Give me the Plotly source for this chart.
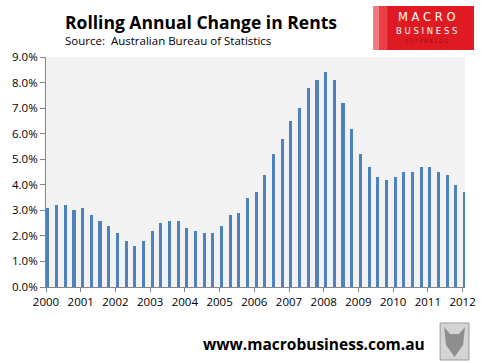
import plotly.graph_objects as go

# ---- data (quarterly rolling annual change in rents, %) ----
years = [2000 + q / 4 for q in range(49)]
rent_change = [3.1, 3.2, 3.2, 3.0, 3.1, 2.8, 2.6, 2.4,
               2.1, 1.8, 1.6, 1.8, 2.2, 2.5, 2.6, 2.6,
               2.3, 2.2, 2.1, 2.1, 2.4, 2.8, 2.9, 3.5,
               3.7, 4.4, 5.2, 5.8, 6.5, 7.0, 7.8, 8.1,
               8.4, 8.1, 7.2, 6.2, 5.2, 4.7, 4.3, 4.2,
               4.3, 4.5, 4.5, 4.7, 4.7, 4.5, 4.4, 4.0,
               3.7]
x_ticks = list(range(2000, 2013))
x_labels = [str(y) for y in x_ticks]
y_ticks = list(range(0, 10))
y_labels = [f"{v:.1f}%" for v in y_ticks]

W, H = 488, 363
L, R, T, B = 45, 22, 57, 76
pw, ph = W - L - R, H - T - B


def px(x):
    return (x - L) / pw


def py(y):
    return (H - B - y) / ph


fig = go.Figure()
fig.add_trace(go.Bar(
    x=years, y=rent_change,
    width=0.088, offset=0.012,
    marker=dict(color="#4F81BD", line=dict(width=0)),
    hoverinfo="x+y",
))

font = "Open Sans, DejaVu Sans, sans-serif"

fig.update_layout(
    width=W, height=H,
    margin=dict(l=L, r=R, t=T, b=B, pad=0),
    paper_bgcolor="white",
    plot_bgcolor="#F2F2F2",
    showlegend=False,
    bargap=0,
    font=dict(family=font, size=11, color="#000000"),
    xaxis=dict(
        range=[2000, 2012.07],
        tickvals=x_ticks, ticktext=x_labels,
        ticks="outside", ticklen=4, tickcolor="#868686",
        showline=True, linecolor="#868686", linewidth=1,
        showgrid=False, zeroline=False,
        tickfont=dict(size=11.5, family=font),
        fixedrange=True,
    ),
    yaxis=dict(
        range=[0, 9],
        tickvals=y_ticks, ticktext=y_labels,
        ticks="outside", ticklen=5, tickcolor="#868686",
        showline=True, linecolor="#868686", linewidth=1,
        showgrid=False, zeroline=False,
        tickfont=dict(size=11.5, family=font),
        fixedrange=True,
    ),
)

shapes = []
annotations = []

# Title and source
annotations.append(dict(
    x=px(62), y=py(22), xref="paper", yref="paper",
    xanchor="left", yanchor="middle", showarrow=False,
    text="<b>Rolling Annual Change in Rents</b>",
    font=dict(family=font, size=17.5, color="#000000"),
))
annotations.append(dict(
    x=px(62), y=py(41), xref="paper", yref="paper",
    xanchor="left", yanchor="middle", showarrow=False,
    text="Source:  Australian Bureau of Statistics",
    font=dict(family=font, size=11.5, color="#000000"),
))

# Logo box
shapes.append(dict(type="rect", xref="paper", yref="paper",
                   x0=px(374), x1=px(475), y0=py(50), y1=py(6),
                   fillcolor="#E01A22", line=dict(width=0), layer="above"))
shapes.append(dict(type="rect", xref="paper", yref="paper",
                   x0=px(374), x1=px(380), y0=py(50), y1=py(6),
                   fillcolor="#F07A7E", line=dict(width=0), layer="above"))
shapes.append(dict(type="rect", xref="paper", yref="paper",
                   x0=px(380), x1=px(388), y0=py(50), y1=py(6),
                   fillcolor="#E84046", line=dict(width=0), layer="above"))
annotations.append(dict(
    x=px(427), y=py(17), xref="paper", yref="paper",
    xanchor="center", yanchor="middle", showarrow=False,
    text="M A C R O",
    font=dict(family="DejaVu Sans, sans-serif", size=11.5, color="#FFFFFF"),
))
annotations.append(dict(
    x=px(427), y=py(31), xref="paper", yref="paper",
    xanchor="center", yanchor="middle", showarrow=False,
    text="B U S I N E S S",
    font=dict(family="DejaVu Sans, sans-serif", size=8.5, color="#FFFFFF"),
))
annotations.append(dict(
    x=px(427), y=py(41), xref="paper", yref="paper",
    xanchor="center", yanchor="middle", showarrow=False,
    text="S U P E R B L O G",
    font=dict(family="DejaVu Sans, sans-serif", size=5, color="#9A1015"),
))

# Footer
annotations.append(dict(
    x=px(428), y=py(344), xref="paper", yref="paper",
    xanchor="right", yanchor="middle", showarrow=False,
    text="<b>www.macrobusiness.com.au</b>",
    font=dict(family=font, size=15.5, color="#000000"),
))
shapes.append(dict(type="rect", xref="paper", yref="paper",
                   x0=px(441), x1=px(470), y0=py(360), y1=py(323),
                   fillcolor="#D4D4D4", line=dict(width=1, color="#9A9A9A"), layer="above"))
shapes.append(dict(type="path", xref="paper", yref="paper",
                   path=(f"M {px(445)},{py(327)} L {px(451)},{py(334)} L {px(460)},{py(334)} "
                         f"L {px(466)},{py(327)} L {px(464)},{py(345)} L {px(455.5)},{py(357)} "
                         f"L {px(447)},{py(345)} Z"),
                   fillcolor="#8E8E8E", line=dict(width=0), layer="above"))

fig.update_layout(shapes=shapes, annotations=annotations)
fig.write_html(
    "out.html",
    config={"displayModeBar": False},
    post_script="document.body.style.margin='0';document.body.style.padding='0';",
)
